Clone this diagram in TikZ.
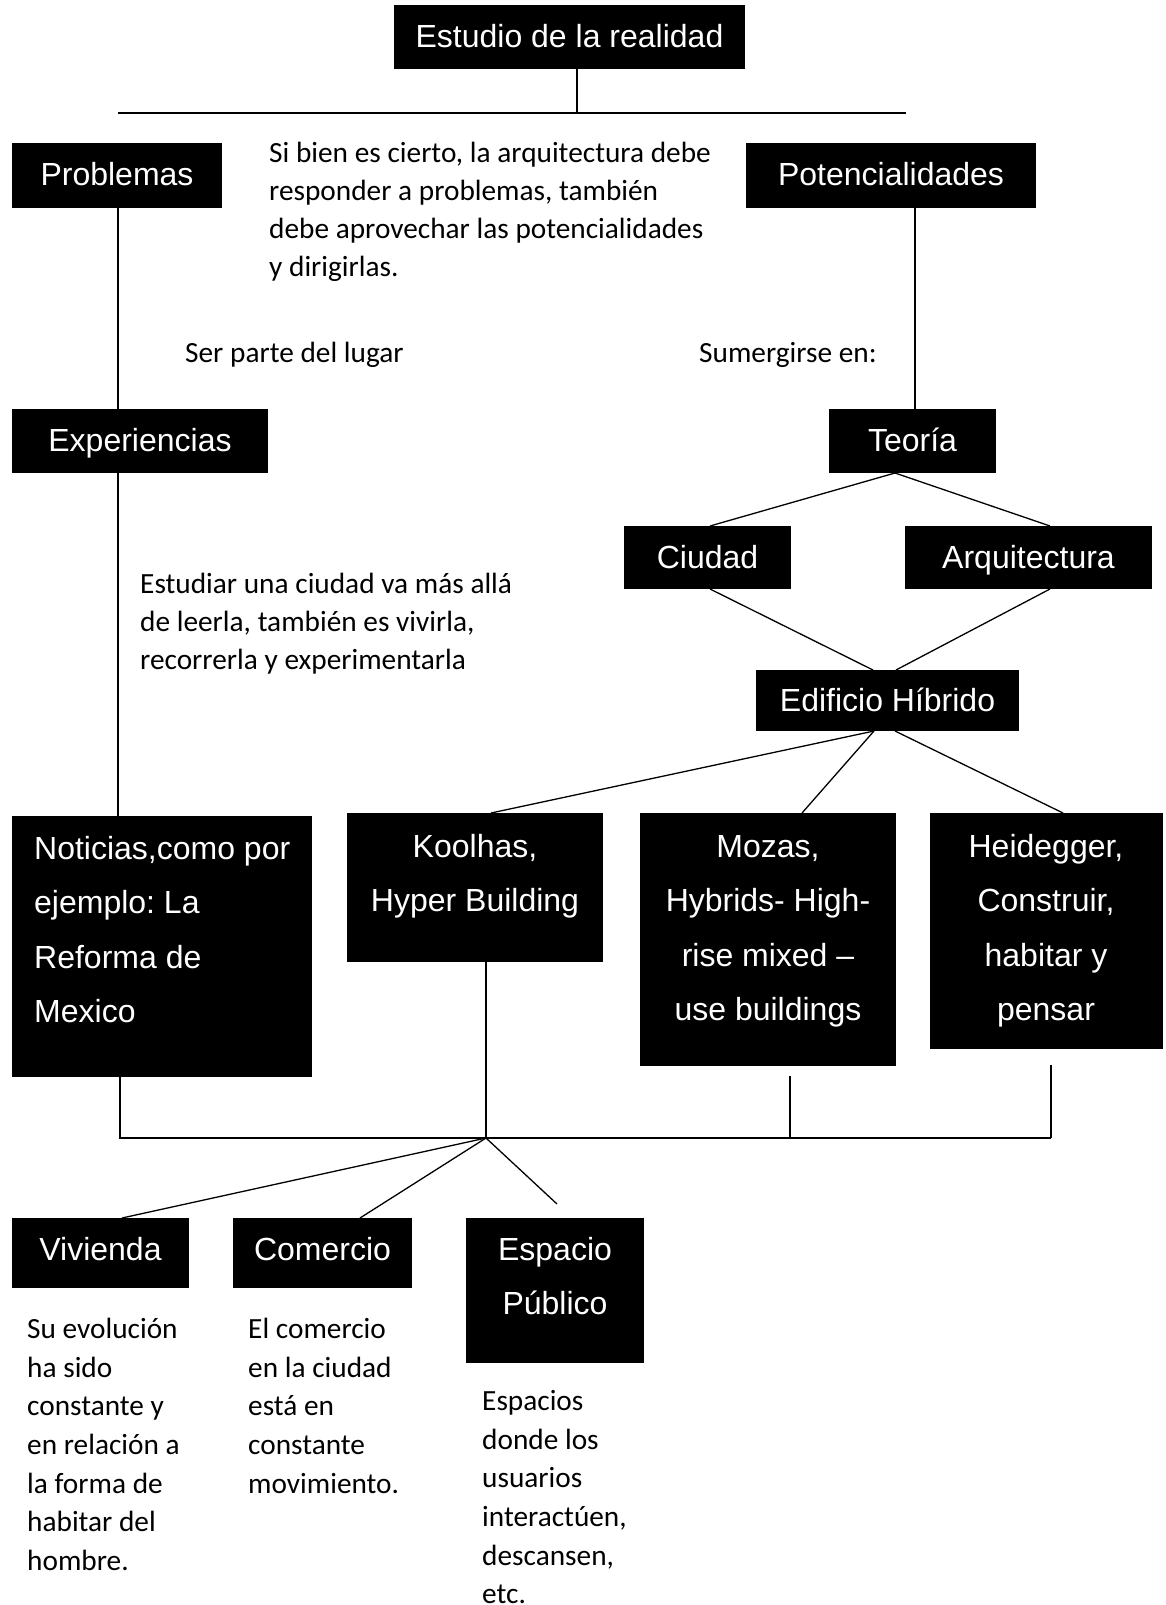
\documentclass[tikz,border=0pt]{standalone}
\usepackage{fontspec}
\setmainfont{Liberation Sans}
\newfontfamily\calibfont{Carlito}
\usetikzlibrary{calc}
\frenchspacing
\newcommand{\boxfont}{\fontsize{32}{54.5}\selectfont}
\newcommand{\notefont}{\calibfont\fontsize{29.3}{38.3}\selectfont\spaceskip=6.7pt\relax\xspaceskip=6.7pt\relax}
\newcommand{\notefontb}{\calibfont\fontsize{29.3}{38.7}\selectfont\spaceskip=6.7pt\relax\xspaceskip=6.7pt\relax}
\begin{document}
\begin{tikzpicture}[x=1pt,y=-1pt,
  blk/.style={fill=black,text=white,inner sep=0pt,outer sep=0pt,anchor=north west,font=\boxfont,text height=21pt,text depth=0pt},
  blkempty/.style={fill=black,inner sep=0pt,outer sep=0pt,anchor=north west},
  blktxt/.style={text=white,inner sep=0pt,anchor=north,font=\boxfont,text width=#1,align=flush center},
  blktxtl/.style={text=white,inner sep=0pt,anchor=north west,font=\boxfont,text width=#1,align=flush left},
  note/.style={inner sep=0pt,anchor=north west,font=\notefont,text width=#1,align=flush left},
  noteb/.style={inner sep=0pt,anchor=north west,font=\notefontb,text width=#1,align=flush left},
  conn/.style={line width=1.3pt,line cap=butt}]
\fill[white] (0,0) rectangle (1165,1605);
\useasboundingbox (0,0) rectangle (1165,1605);

% boxes
\node[blk,minimum width=351,minimum height=64] (est) at (394,5) {Estudio de la realidad};
\node[blk,minimum width=210,minimum height=65] (prob) at (12,143) {Problemas};
\node[blk,minimum width=290,minimum height=65] (pot) at (746,143) {Potencialidades};
\node[blk,minimum width=256,minimum height=64] (exp) at (12,409) {Experiencias};
\node[blk,minimum width=167,minimum height=64] (teo) at (829,409) {Teoría};
\node[blk,minimum width=167,minimum height=63] (ciu) at (624,526) {Ciudad};
\node[blk,minimum width=247,minimum height=63] (arq) at (905,526) {Arquitectura};
\node[blk,minimum width=263,minimum height=61] (edi) at (756,670) {Edificio Híbrido};
\node[blkempty,minimum width=300,minimum height=261] (not) at (12,816) {};
\node[blkempty,minimum width=256,minimum height=149] (koo) at (347,813) {};
\node[blkempty,minimum width=256,minimum height=253] (moz) at (640,813) {};
\node[blkempty,minimum width=233,minimum height=236] (hei) at (930,813) {};
\node[blk,minimum width=177,minimum height=70,text height=15pt] (viv) at (12,1218) {Vivienda};
\node[blk,minimum width=179,minimum height=70,text height=15pt] (com) at (233,1218) {Comercio};
\node[blkempty,minimum width=178,minimum height=145] (esp) at (466,1218) {};

% texts inside tall boxes
\node[blktxtl=290] (nott) at (34,821) {\strut Noticias,como por\\ejemplo: La\\Reforma de\\Mexico};
\node[blktxt=250] (koot) at (475,819) {\strut Koolhas,\\Hyper Building};
\node[blktxt=250] (mozt) at (768,819) {\strut Mozas,\\Hybrids- High-\\rise mixed –\\use buildings};
\node[blktxt=230] (heit) at (1046,819) {\strut Heidegger,\\Construir,\\habitar y\\pensar};
\node[blktxt=170] (espt) at (555,1222) {\strut Espacio\\Público};

% notes
\node[note=460] (n1) at (269,135) {\strut Si bien es cierto, la arquitectura debe\\responder a problemas, también\\debe aprovechar las potencialidades\\y dirigirlas.};
\node[note=260] (n2) at (185,335) {\strut Ser parte del lugar};
\node[note=200] (n3) at (699,335) {\strut Sumergirse en:};
\node[note=400] (n4) at (140,566) {\strut Estudiar una ciudad va más allá\\de leerla, también es vivirla,\\recorrerla y experimentarla};
\node[noteb=180] (n5) at (27,1311) {\strut Su evolución\\ha sido\\constante y\\en relación a\\la forma de\\habitar del\\hombre.};
\node[noteb=180] (n6) at (248,1311) {\strut El comercio\\en la ciudad\\está en\\constante\\movimiento.};
\node[noteb=180] (n7) at (482,1383) {\strut Espacios\\donde los\\usuarios\\interactúen,\\descansen,\\etc.};

% coordinates
\coordinate (hl) at (118,113);
\coordinate (hm) at (577,113);
\coordinate (hr) at (906,113);
\coordinate (xl) at (118,0);
\coordinate (xr) at (915,0);
\coordinate (jl) at (120,1138);
\coordinate (jm) at (486,1138);
\coordinate (jmz) at (790,1138);
\coordinate (jr) at (1051,1138);
\coordinate (mzs) at (790,1076);
\coordinate (hes) at (1051,1065);
\coordinate (espend) at (557,1204);

% connectors
\draw[conn] (est.south -| hm) -- (hm);
\draw[conn] (hl) -- (hr);
\draw[conn] (prob.south -| xl) -- (exp.north -| xl);
\draw[conn] (pot.south -| xr) -- (teo.north -| xr);
\draw[conn] (exp.south -| xl) -- (not.north -| xl);
\draw[conn] ([xshift=-17.5]teo.south) -- ([xshift=2.5]ciu.north);
\draw[conn] ([xshift=-17.5]teo.south) -- ([xshift=21.5]arq.north);
\draw[conn] ([xshift=2.5]ciu.south) -- ([xshift=-14.5]edi.north);
\draw[conn] ([xshift=21.5]arq.south) -- ([xshift=8.5]edi.north);
\draw[conn] ([xshift=-13.5]edi.south) -- ([xshift=16]koo.north);
\draw[conn] ([xshift=-13.5]edi.south) -- ([xshift=34]moz.north);
\draw[conn] ([xshift=7.5]edi.south) -- ([xshift=16.5]hei.north);
\draw[conn] (not.south -| jl) -- (jl) -- (jr);
\draw[conn] (koo.south -| jm) -- (jm);
\draw[conn] (mzs) -- (jmz);
\draw[conn] (hes) -- (jr);
\draw[conn] (jm) -- ([xshift=21.5]viv.north);
\draw[conn] (jm) -- ([xshift=37.5]com.north);
\draw[conn] (jm) -- (espend);
\end{tikzpicture}
\end{document}
